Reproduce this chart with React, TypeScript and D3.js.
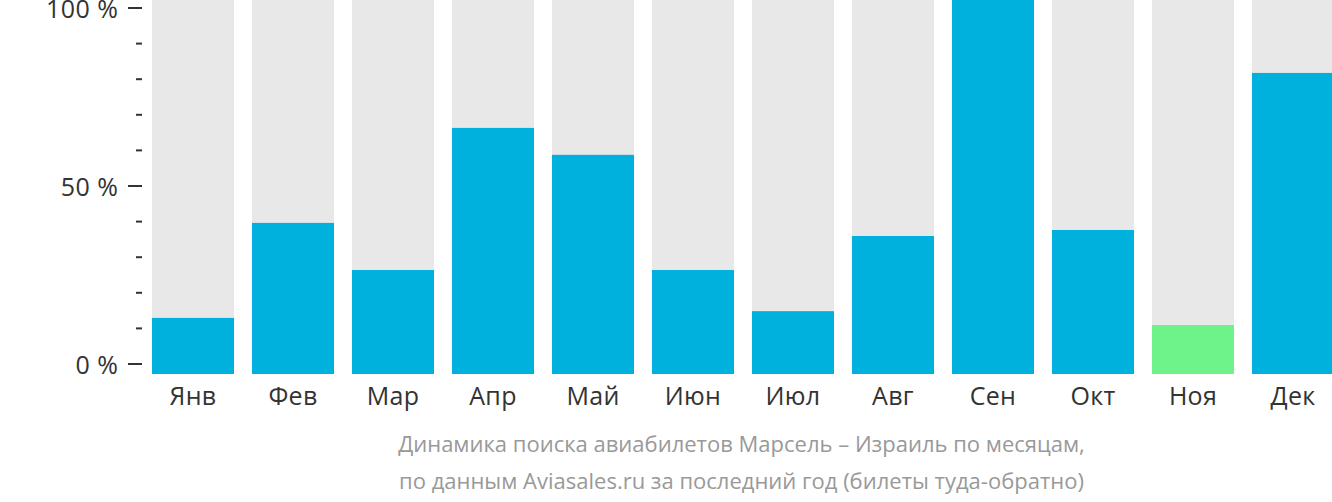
import React from "react";
import * as d3 from "d3";

const months = ["Янв", "Фев", "Мар", "Апр", "Май", "Июн", "Июл", "Авг", "Сен", "Окт", "Ноя", "Дек"];
const values = [15.0, 40.4, 27.8, 65.8, 58.6, 27.8, 16.8, 36.9, 100, 38.5, 13.1, 80.5];
const highlight = [false, false, false, false, false, false, false, false, false, false, true, false];
const majorTicks = [0, 50, 100];
const minorTicks = [10, 20, 30, 40, 60, 70, 80, 90];
const captionLines = [
  "Динамика поиска авиабилетов Марсель – Израиль по месяцам,",
  "по данным Aviasales.ru за последний год (билеты туда-обратно)",
];

const W = 1332;
const H = 502;
const FONT = "'Open Sans', 'Noto Sans', sans-serif";

export default function App() {
  const x = d3.scaleBand<string>().domain(months).range([152, 1334]).paddingInner(0.18).paddingOuter(0);
  const barY = d3.scaleLinear().domain([0, 100]).range([374, 0]);
  const axisY = d3.scaleLinear().domain([0, 100]).range([364, 8]);

  return (
    <svg
      width={W}
      height={H}
      style={{ position: "absolute", left: 0, top: 0, background: "#fff" }}
      fontFamily={FONT}
    >
      {months.map((m, i) => (
        <g key={m}>
          <rect x={x(m)} y={barY(100)} width={x.bandwidth()} height={barY(0) - barY(100)} fill="#e8e8e8" />
          <rect
            x={x(m)}
            y={barY(values[i])}
            width={x.bandwidth()}
            height={barY(0) - barY(values[i])}
            fill={highlight[i] ? "#6ef28a" : "#00b1dd"}
          />
          <text
            x={(x(m) as number) + x.bandwidth() / 2}
            y={405}
            textAnchor="middle"
            fontSize={25}
            letterSpacing={0.3}
            fill="#333"
          >
            {m}
          </text>
        </g>
      ))}
      {majorTicks.map((t) => (
        <g key={"M" + t}>
          <line x1={128} x2={142} y1={axisY(t)} y2={axisY(t)} stroke="#333" strokeWidth={2} />
          <text
            x={118.5}
            y={axisY(t) + 9.7}
            textAnchor="end"
            fontSize={25}
            letterSpacing={0.5}
            fill="#333"
          >
            {t} %
          </text>
        </g>
      ))}
      {minorTicks.map((t) => (
        <line key={"m" + t} x1={136} x2={142} y1={axisY(t)} y2={axisY(t)} stroke="#333" strokeWidth={2} />
      ))}
      {captionLines.map((l, i) => (
        <text key={i} x={741.5} y={452 + i * 36.5} textAnchor="middle" fontSize={22} fill="#999">
          {l}
        </text>
      ))}
    </svg>
  );
}
